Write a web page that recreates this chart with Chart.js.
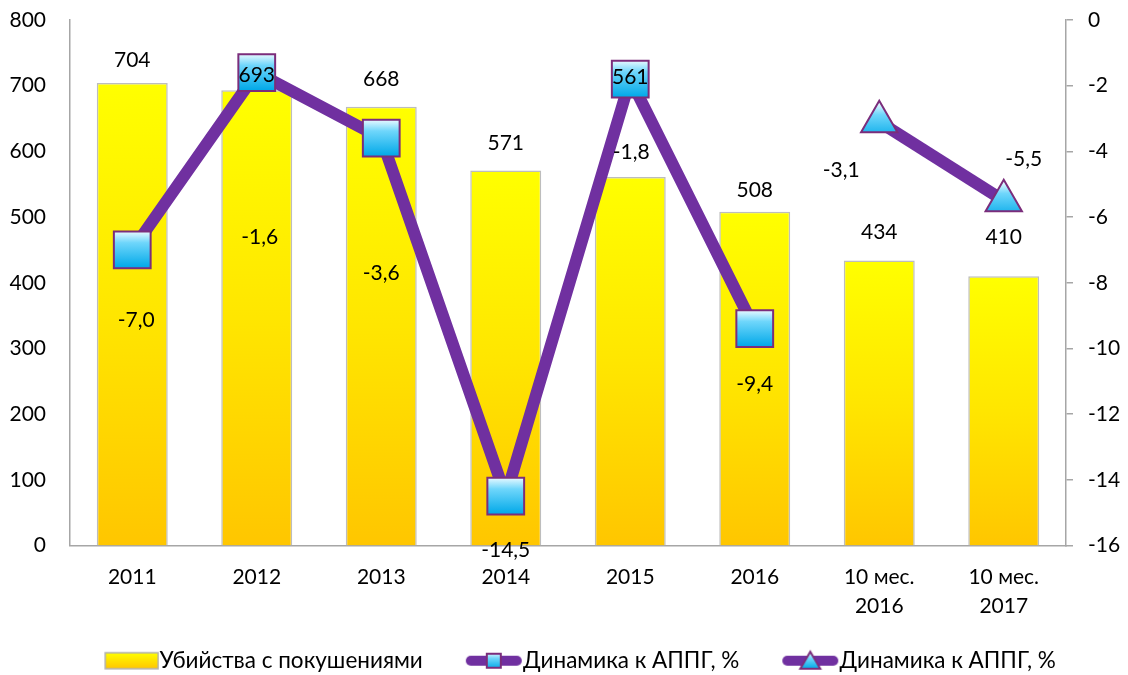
<!DOCTYPE html>
<html>
<head>
<meta charset="utf-8">
<script src="https://cdn.jsdelivr.net/npm/chart.js@4/dist/chart.umd.min.js"></script>
<style>
  html, body { margin: 0; padding: 0; background: #fff; }
  #wrap { width: 1128px; height: 675px; }
</style>
</head>
<body>
<div id="wrap"><canvas id="crimeChart"></canvas></div>
<script>
'use strict';

// categories and values
var categories = ['2011', '2012', '2013', '2014', '2015', '2016', ['10 мес.', '2016'], ['10 мес.', '2017']];
var murders = [704, 693, 668, 571, 561, 508, 434, 410];
var dynamicsYears = [-7.0, -1.6, -3.6, -14.5, -1.8, -9.4, null, null];
var dynamicsMonths = [null, null, null, null, null, null, -3.1, -5.5];
var seriesNames = ['Убийства с покушениями', 'Динамика к АППГ, %', 'Динамика к АППГ, %'];

// where the labels were put by hand (pixels)
var barLabelShift = [-23, -15, -27, -27, -100, -22, -28, -39];
var lineLabelShift = [[4, 70], [3, 165], [0, 135], [0, 54], [1, 73], [0, 56], [-38, 48], [20, -41]];

var purple = '#7030A0';
var fontFamily = 'Lato, "Noto Sans", sans-serif';

Chart.defaults.font.family = fontFamily;
Chart.defaults.font.size = 21;
Chart.defaults.color = '#000';

function fmt(v) {
  return v.toFixed(1).replace('.', ',');
}

function barFill(context) {
  var chart = context.chart;
  var y = chart.scales.y;
  if (!y || context.raw == null || !chart.chartArea) return '#FFE000';
  var top = y.getPixelForValue(context.raw);
  var base = y.getPixelForValue(0);
  var g = chart.ctx.createLinearGradient(0, top, 0, base);
  g.addColorStop(0, '#FFFF00');
  g.addColorStop(0.5, '#FFE600');
  g.addColorStop(1, '#FFC600');
  return g;
}

function markerFill(context) {
  var chart = context.chart;
  var y = chart.scales.y2;
  if (!y || context.raw == null || !chart.chartArea) return '#33BFF0';
  var cy = y.getPixelForValue(context.raw);
  var g = chart.ctx.createLinearGradient(0, cy - 18, 0, cy + 18);
  g.addColorStop(0, '#E4F8FF');
  g.addColorStop(0.3, '#6FD6FB');
  g.addColorStop(1, '#00A8E8');
  return g;
}

// small pictures for the legend keys
function legendIcon(kind) {
  var W = 102, H = 24;
  var cv = document.createElement('canvas');
  cv.width = W; cv.height = H;
  var c = cv.getContext('2d');
  var right = W - 1;
  if (kind === 'bar') {
    var g = c.createLinearGradient(0, 4, 0, 20);
    g.addColorStop(0, '#FFFF00');
    g.addColorStop(1, '#FFC600');
    c.fillStyle = g;
    c.fillRect(right - 53, 4, 53, 16);
    c.strokeStyle = '#B0B0B0';
    c.lineWidth = 1.5;
    c.strokeRect(right - 53, 4, 53, 16);
    return cv;
  }
  var left = right - 56, mid = (left + right) / 2;
  c.strokeStyle = purple;
  c.lineWidth = 10;
  c.lineCap = 'round';
  c.beginPath();
  c.moveTo(left + 5, 12);
  c.lineTo(right - 5, 12);
  c.stroke();
  var g2 = c.createLinearGradient(0, 4, 0, 20);
  g2.addColorStop(0, '#E4F8FF');
  g2.addColorStop(0.35, '#6FD6FB');
  g2.addColorStop(1, '#00A8E8');
  c.fillStyle = g2;
  c.strokeStyle = '#7B2D7B';
  c.lineWidth = 2;
  c.beginPath();
  if (kind === 'square') {
    c.rect(mid - 7, 5, 14, 14);
  } else {
    c.moveTo(mid, 3);
    c.lineTo(mid + 10, 20);
    c.lineTo(mid - 10, 20);
    c.closePath();
  }
  c.fill();
  c.stroke();
  return cv;
}

var legendIcons = [legendIcon('bar'), legendIcon('square'), legendIcon('triangle')];

var valueLabels = {
  id: 'valueLabels',
  afterDatasetsDraw: function(chart) {
    var c = chart.ctx;
    c.save();
    c.font = '21px ' + fontFamily;
    c.fillStyle = '#000';
    c.textAlign = 'center';
    c.textBaseline = 'middle';
    [1, 2].forEach(function(di) {
      var ds = chart.data.datasets[di];
      chart.getDatasetMeta(di).data.forEach(function(pt, i) {
        var v = ds.data[i];
        if (v == null) return;
        c.fillText(fmt(v), pt.x + lineLabelShift[i][0], pt.y + lineLabelShift[i][1]);
      });
    });
    chart.getDatasetMeta(0).data.forEach(function(bar, i) {
      c.fillText(String(murders[i]), bar.x, bar.y + barLabelShift[i]);
    });
    c.restore();
  }
};

// keep the axis box size fixed and drop the extra top/bottom reserve
function trimPadding(scale) {
  scale.paddingTop = 12;
  scale.paddingBottom = 12;
}
function fixWidth(w) {
  return function(scale) {
    scale.width = w;
    trimPadding(scale);
  };
}

var ctx = document.getElementById('crimeChart').getContext('2d');
var crimeChart = new Chart(ctx, {
  type: 'bar',
  data: {
    labels: categories,
    datasets: [{
      type: 'bar',
      label: seriesNames[0],
      data: murders,
      yAxisID: 'y',
      backgroundColor: barFill,
      borderColor: '#BDBDBD',
      borderWidth: 1.5,
      categoryPercentage: 1,
      barPercentage: 0.57,
      order: 3
    }, {
      type: 'line',
      label: seriesNames[1],
      data: dynamicsYears,
      yAxisID: 'y2',
      borderColor: purple,
      borderWidth: 12,
      borderJoinStyle: 'round',
      pointStyle: 'rect',
      pointRadius: 26,
      pointBackgroundColor: markerFill,
      pointBorderColor: '#7B2D7B',
      pointBorderWidth: 2,
      spanGaps: false,
      clip: false,
      order: 1
    }, {
      type: 'line',
      label: seriesNames[2],
      data: dynamicsMonths,
      yAxisID: 'y2',
      borderColor: purple,
      borderWidth: 12,
      borderJoinStyle: 'round',
      pointStyle: 'triangle',
      pointRadius: 21,
      pointBackgroundColor: markerFill,
      pointBorderColor: '#7B2D7B',
      pointBorderWidth: 2,
      spanGaps: false,
      clip: false,
      order: 2
    }]
  },
  options: {
    responsive: true,
    maintainAspectRatio: false,
    animation: false,
    events: [],
    layout: { autoPadding: false, padding: { top: 20, left: 0, right: 4, bottom: -7 } },
    plugins: {
      tooltip: { enabled: false },
      legend: {
        position: 'bottom',
        labels: {
          usePointStyle: true,
          pointStyleWidth: 80,
          padding: 9,
          font: { size: 22.5 },
          generateLabels: function(chart) {
            return chart.data.datasets.map(function(ds, i) {
              return {
                text: ds.label,
                pointStyle: legendIcons[i],
                fillStyle: 'transparent',
                strokeStyle: 'transparent',
                lineWidth: 0,
                hidden: false,
                datasetIndex: i,
                fontColor: '#000'
              };
            });
          }
        }
      }
    },
    scales: {
      x: {
        grid: { display: false, drawTicks: false },
        border: { display: true, color: '#A6A6A6', width: 1.5 },
        ticks: { padding: 17, maxRotation: 0, font: { size: 21, lineHeight: 1.4 } },
        afterFit: function(scale) { scale.height = 95; }
      },
      y: {
        position: 'left',
        min: 0,
        max: 800,
        grid: { display: false, drawTicks: false },
        border: { display: true, color: '#A6A6A6', width: 1.5 },
        ticks: { stepSize: 100, padding: 24 },
        afterFit: fixWidth(70),
        afterUpdate: trimPadding
      },
      y2: {
        position: 'right',
        min: -16,
        max: 0,
        grid: { drawOnChartArea: false, drawTicks: true, tickLength: 7, color: '#A6A6A6', lineWidth: 1.5 },
        border: { display: true, color: '#A6A6A6', width: 1.5 },
        ticks: { stepSize: 2, padding: 15, callback: function(v) { return String(v); } },
        afterFit: fixWidth(58),
        afterUpdate: trimPadding
      }
    }
  },
  plugins: [valueLabels]
});
</script>
</body>
</html>
